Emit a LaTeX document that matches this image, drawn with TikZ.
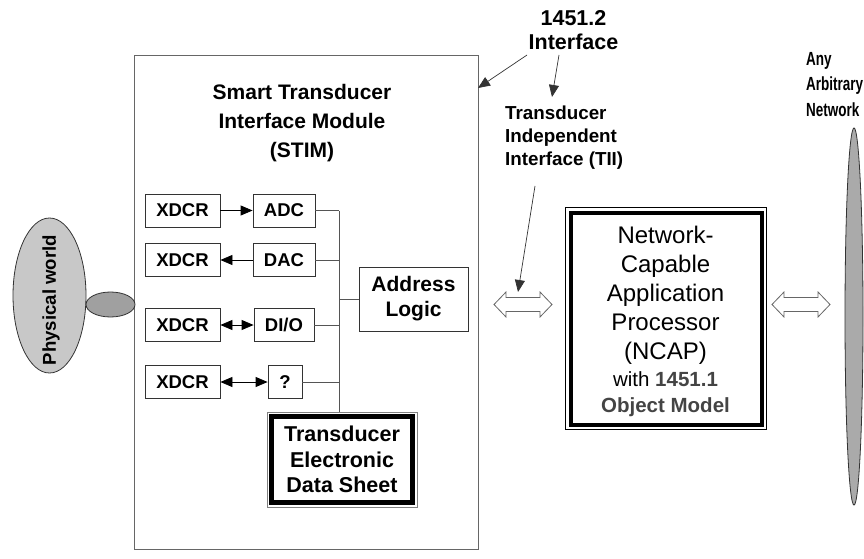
\documentclass[tikz,border=0pt]{standalone}
\usepackage{fontspec}
\usepackage{graphicx}
\setmainfont{Liberation Sans}
\newcommand{\narrowtxt}[1]{\scalebox{0.71}[1]{#1}}
\usetikzlibrary{arrows.meta,shapes.geometric}
\definecolor{boxline}{HTML}{333333}
\definecolor{stimline}{HTML}{666666}
\definecolor{busline}{HTML}{555555}
\definecolor{pwfill}{HTML}{C8C8C8}
\definecolor{pwdark}{HTML}{A0A0A0}
\definecolor{netfill}{HTML}{AAAAAA}
\definecolor{omgray}{HTML}{444444}
\begin{document}
\begin{tikzpicture}[x=1pt,y=-1pt,
  lbl/.style={draw=boxline, line width=0.8pt, inner sep=0pt, font=\fontsize{18.5}{22}\selectfont\bfseries},
  txt/.style={inner sep=0pt},
  tipone/.style={line width=0.8pt, -{Triangle[length=12pt,width=10pt]}},
  tiptwo/.style={line width=0.8pt, {Triangle[length=12pt,width=10pt]}-{Triangle[length=12pt,width=10pt]}},
  thinarrow/.style={draw=boxline, line width=0.7pt, -{Triangle[length=12pt,width=10pt]}},
  busl/.style={draw=busline, line width=0.8pt},
  hollowarrow/.pic={\draw[draw=stimline, line width=0.8pt, fill=white]
     (-29,0) -- (-17,-12.5) -- (-17,-7) -- (17,-7) -- (17,-12.5) -- (29,0)
     -- (17,12.5) -- (17,7) -- (-17,7) -- (-17,12.5) -- cycle;}
]
\useasboundingbox (0,0) rectangle (864,559);

% STIM module
\node[draw=stimline, line width=0.9pt, minimum width=344, minimum height=494, inner sep=0pt] (stim) at (306,302) {};
\node[txt, align=center, font=\fontsize{21}{29}\selectfont\bfseries] (stimt) at (302,123.5) {Smart Transducer\\Interface Module\\(STIM)};

% transducers and converters
\node[lbl, minimum width=75, minimum height=33] (x1) at (182.5,210.5) {XDCR};
\node[lbl, minimum width=75, minimum height=33] (x2) at (182.5,260) {XDCR};
\node[lbl, minimum width=75, minimum height=33] (x3) at (182.5,325) {XDCR};
\node[lbl, minimum width=75, minimum height=33] (x4) at (182.5,382) {XDCR};
\node[lbl, minimum width=62, minimum height=33] (adc) at (284,210.5) {ADC};
\node[lbl, minimum width=62, minimum height=33] (dac) at (284,260) {DAC};
\node[lbl, minimum width=60, minimum height=33] (dio) at (284,325) {DI/O};
\node[lbl, minimum width=34, minimum height=33] (q) at (285,382) {?};

\draw[tipone] (x1) -- (adc);
\draw[tipone] (dac) -- (x2);
\draw[tiptwo] (x3) -- (dio);
\draw[tiptwo] (x4) -- (q);

% address logic and TEDS
\node[lbl, minimum width=109, minimum height=64, align=center, font=\fontsize{21}{25}\selectfont\bfseries] (al) at (413.5,299) {Address\\Logic};
\node[draw=gray, line width=0.8pt, minimum width=150, minimum height=95, outer sep=0pt, inner sep=0pt] (ted) at (342,459.5) {};
\node[draw=black, line width=4.5pt, minimum width=141, minimum height=86, inner sep=0pt, align=center, font=\fontsize{21.5}{25.5}\selectfont\bfseries] (tedt) at (342,459.5) {Transducer\\Electronic\\Data Sheet};

% bus
\coordinate (bus) at (339,0);
\draw[busl] (adc.east) -- (adc.east -| bus);
\draw[busl] (dac.east) -- (dac.east -| bus);
\draw[busl] (dio.east) -- (dio.east -| bus);
\draw[busl] (q.east) -- (q.east -| bus);
\draw[busl] (adc.east -| bus) -- (bus |- ted.north);
\draw[busl] (al.west -| bus) -- (al.west);

% physical world
\node[draw=boxline, line width=0.8pt, ellipse, fill=pwfill, minimum width=73, minimum height=155, inner sep=0pt] (pw) at (49.5,295.5) {};
\node[txt, rotate=90, font=\fontsize{18.6}{22}\selectfont\bfseries] (pwt) at (51,300) {Physical world};
\node[draw=boxline, line width=0.8pt, ellipse, fill=pwdark, minimum width=49, minimum height=25, inner sep=0pt] (pw2) at (110.5,304.5) {};

% NCAP
\node[draw=black, line width=1pt, minimum width=201, minimum height=222, outer sep=0pt, inner sep=0pt] (ncap) at (666,318.5) {};
\node[draw=black, line width=4pt, minimum width=191, minimum height=212, inner sep=0pt] (ncapin) at (666,318.5) {};
\node[txt, align=center, font=\fontsize{24}{29}\selectfont] (ncapt) at (665.5,295) {Network-\\Capable\\Application\\Processor\\(NCAP)};
\node[txt, align=center, font=\fontsize{20.5}{26}\selectfont] (ncapm) at (665.5,394.6) {with \textbf{\color{omgray}1451.1}\\\textbf{\color{omgray}Object Model}};

% network
\node[draw=boxline, line width=0.8pt, ellipse, fill=netfill, minimum width=18, minimum height=377, inner sep=0pt] (net) at (854,316.5) {};
\node[txt, align=left, anchor=west, font=\fontsize{19}{25.5}\selectfont\bfseries] (anynet) at (806,84.5) {\narrowtxt{Any}\\\narrowtxt{Arbitrary}\\\narrowtxt{Network}};

% hollow double arrows
\pic (lha) at (523,304.5) {hollowarrow};
\pic (rha) at (801,304.5) {hollowarrow};

% interface labels
\node[txt, align=center, font=\fontsize{21.5}{23.3}\selectfont\bfseries] (iface) at (573.5,30) {1451.2\\Interface};
\node[txt, align=left, anchor=west, font=\fontsize{18.8}{23}\selectfont\bfseries] (tii) at (505,138) {Transducer\\Independent\\Interface (TII)};

\coordinate (i1) at (527,55);
\coordinate (i2) at (559,55);
\coordinate (stimpt) at (478,88);
\coordinate (tiitop) at (552,97);
\coordinate (t1) at (535,186);
\coordinate (lhatop) at (518,292);
\draw[thinarrow] (i1) -- (stimpt);
\draw[thinarrow] (i2) -- (tiitop);
\draw[thinarrow] (t1) -- (lhatop);
\end{tikzpicture}
\end{document}
